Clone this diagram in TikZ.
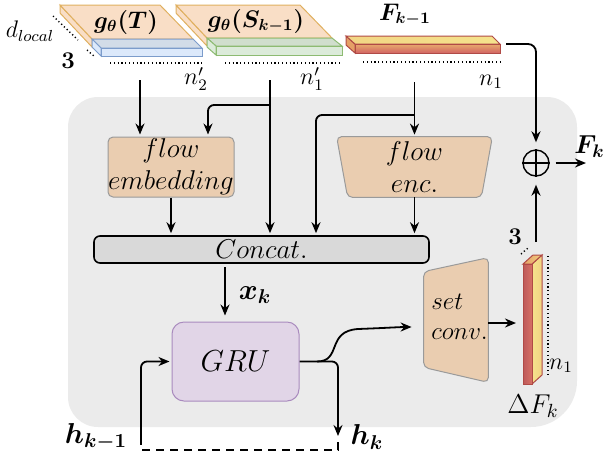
\RequirePackage{fix-cm}
\documentclass[tikz,border=0pt]{standalone}
\usepackage{amsmath,bm}
\usetikzlibrary{arrows.meta,calc}
\pgfdeclarelayer{back}\pgfdeclarelayer{mid}
\pgfsetlayers{back,mid,main}

\definecolor{panelF}{HTML}{EBEBEB}
\definecolor{peachF}{HTML}{EACDB0}
\definecolor{peachB}{HTML}{9A9A9A}
\definecolor{concatF}{HTML}{D9D9D9}
\definecolor{gruF}{HTML}{E1D5E7}
\definecolor{gruB}{HTML}{A98BBE}
\definecolor{featF}{HTML}{F9DEC6}
\definecolor{featB}{HTML}{E0B060}
\definecolor{blueF}{HTML}{DCE9FB}
\definecolor{blueT}{HTML}{D2DCE8}
\definecolor{blueB}{HTML}{7C9CCB}
\definecolor{greenF}{HTML}{DCEBDA}
\definecolor{greenT}{HTML}{D0DECD}
\definecolor{greenB}{HTML}{8DBB72}
\definecolor{yelF}{HTML}{F5E38C}
\definecolor{redF}{HTML}{D26464}
\definecolor{redB}{HTML}{B04A46}
\definecolor{oraF}{HTML}{E5A066}

\tikzset{
  arr/.style={line width=0.9pt, -{Stealth[length=5.5pt,width=4.5pt]}, shorten >=1pt},
  link/.style={line width=0.9pt},
  dots/.style={line width=0.7pt, dash pattern=on 0.6pt off 1.3pt},
  lbl/.style={inner sep=0pt, font=\fontsize{12}{15}\selectfont},
  biglbl/.style={inner sep=0pt, font=\fontsize{14.4}{17}\selectfont},
  boxtxt/.style={inner sep=0pt, align=center, font=\fontsize{13.6}{16}\selectfont},
}

\begin{document}
\begin{tikzpicture}[x=0.5pt,y=-0.5pt]
\useasboundingbox (0,0) rectangle (606,457);

% grey module panel
\begin{pgfonlayer}{back}
  \fill[panelF] (68,127) [rounded corners=15pt] -- (68,97) -- (577,97)
     [rounded corners=23pt] -- (577,427) [rounded corners=15pt] -- (68,427) -- (68,127);
\end{pgfonlayer}

% ---- input tensor g(T): features over coordinates
\filldraw[fill=featF, draw=featB, line width=0.5pt]
  (60,5) -- (60,13) -- (92,47) -- (92,39) -- cycle;
\filldraw[fill=featF, draw=featB, line width=0.5pt]
  (60,5) -- (160,5) -- (193,39) -- (92,39) -- cycle;
\filldraw[fill=blueT, draw=blueB, line width=0.5pt]
  (92,39) -- (193,39) -- (202,48) -- (101,48) -- cycle;
\filldraw[fill=blueF, draw=blueB, line width=0.5pt]
  (92,39) -- (101,48) -- (101,56) -- (92,47) -- cycle;
\filldraw[fill=blueF, draw=blueB, line width=0.5pt]
  (101,48) rectangle (202,56);
\draw[dots] (53,16) -- (78,40);
\draw[dots] (87,50) -- (95,57);
\draw[dots] (110,63) -- (202,63);

% ---- input tensor g(S_{k-1})
\filldraw[fill=featF, draw=featB, line width=0.5pt]
  (176,5) -- (176,13) -- (207,46) -- (207,38) -- cycle;
\filldraw[fill=featF, draw=featB, line width=0.5pt]
  (176,5) -- (300,5) -- (332,38) -- (207,38) -- cycle;
\filldraw[fill=greenT, draw=greenB, line width=0.5pt]
  (207,38) -- (332,38) -- (342,46) -- (216,46) -- cycle;
\filldraw[fill=greenF, draw=greenB, line width=0.5pt]
  (207,38) -- (216,46) -- (216,55) -- (207,47) -- cycle;
\filldraw[fill=greenF, draw=greenB, line width=0.5pt]
  (216,46) rectangle (342,55);
\draw[dots] (225,63) -- (340,63);

% ---- flow tensor F_{k-1}
\filldraw[fill=oraF, draw=redB, line width=0.5pt]
  (346,36) -- (355,44) -- (355,53) -- (346,45) -- cycle;
\path[draw=redB, line width=0.5pt, left color=yelF!80!oraF, right color=yelF]
  (346,36) -- (492,36) -- (500,44) -- (355,44) -- cycle;
\path[draw=redB, line width=0.5pt, top color=oraF!85!yelF, bottom color=redF]
  (355,44) rectangle (500,53);
\draw[dots] (363,62) -- (500,62);

% ---- flow update Delta F_k
\path[draw=redB, line width=0.5pt, left color=yelF, right color=yelF!75!oraF]
  (532,264) -- (542,255) -- (542,375) -- (532,384) -- cycle;
\path[draw=redB, line width=0.5pt, left color=oraF, right color=yelF!70!oraF]
  (523,264) -- (533,255) -- (542,255) -- (532,264) -- cycle;
\path[draw=redB, line width=0.5pt, left color=redF!90!black, right color=redF!80!oraF]
  (523,264) rectangle (532,384);
\draw[dots] (548,256) -- (548,375);
\draw[dots] (521,254) -- (528,248);

% ---- blocks
\node[draw=peachB, fill=peachF, rounded corners=2.5pt, line width=0.5pt,
      minimum width=63pt, minimum height=30pt, boxtxt] (femb) at (171,167)
      {$flow$\\$embedding$};
\node[minimum width=77.5pt, minimum height=30pt, boxtxt] (fenc) at (414.5,167)
      {$flow$\\$enc.$};
\node[draw, fill=concatF, rounded corners=3pt, line width=0.8pt,
      minimum width=167.5pt, minimum height=13.5pt, boxtxt] (concat) at (261.5,249.5)
      {$Concat.$};
\node[draw=gruB, fill=gruF, rounded corners=6pt, line width=0.5pt,
      minimum width=63.5pt, minimum height=39.5pt, inner sep=0pt,
      font=\fontsize{15.2}{18}\selectfont] (gru) at (235.5,361.5) {$GRU$};
\node[minimum width=32pt, minimum height=62pt, inner sep=0pt] (sconv) at (456,320) {};
\node[inner sep=0pt, align=left, anchor=west, font=\fontsize{12.5}{15}\selectfont]
      (sconvtxt) at (431,317) {$set$\\$conv.$};
\node[draw, circle, minimum size=13pt, inner sep=0pt, line width=0.7pt] (plus) at (536,163) {};
\draw[line width=0.7pt] (plus.north) -- (plus.south) (plus.west) -- (plus.east);

% trapezoid outlines of the encoder and the set conv layer
\begin{pgfonlayer}{mid}
  \filldraw[fill=peachF, draw=peachB, line width=0.5pt, rounded corners=2.5pt]
    (fenc.north west) -- (fenc.north east) -- ($(fenc.south east)+(-11,0)$)
    -- ($(fenc.south west)+(11,0)$) -- cycle;
  \filldraw[fill=peachF, draw=peachB, line width=0.5pt, rounded corners=2.5pt]
    (sconv.north east) -- (sconv.south east) -- ($(sconv.south west)+(0,-15)$)
    -- ($(sconv.north west)+(0,14)$) -- cycle;
\end{pgfonlayer}

% ---- labels
\node[lbl] (lgT) at (126,22) {$\bm{g_\theta(T)}$};
\node[lbl] (lgS) at (256,21) {$\bm{g_\theta(S_{k-1})}$};
\node[lbl] (lFp) at (405,15) {$\bm{F_{k-1}}$};
\node[lbl] (ldl) at (30,31) {$d_{local}$};
\node[lbl] (l3a) at (68,61) {$\bm{3}$};
\node[lbl] (ln2) at (196,79) {$n'_2$};
\node[lbl] (ln1p) at (312,79) {$n'_1$};
\node[lbl] (ln1) at (491,82) {$n_1$};
\node[inner sep=0pt, font=\fontsize{13}{15}\selectfont, anchor=east] (lFk) at (605,147) {$\bm{F_k}$};
\node[biglbl] (lxk) at (255,295) {$\bm{x_k}$};
\node[biglbl] (lhkm) at (96,437) {$\bm{h_{k-1}}$};
\node[biglbl] (lhk) at (367,437) {$\bm{h_k}$};
\node[lbl] (l3b) at (515,237) {$\bm{3}$};
\node[lbl] (ln1b) at (561,366) {$n_1$};
\node[boxtxt] (ldF) at (533,406) {$\Delta F_k$};

% ---- connectors
\coordinate (in1) at (140,80);
\draw[arr] (in1) -- (in1 |- femb.north);
\coordinate (in2) at (270,80);
\draw[arr] (in2) -- (in2 |- concat.north);
\coordinate (br2) at (270,105);
\draw[arr, rounded corners=3pt] (br2) -| ($(femb.north)+(37,0)$);
\coordinate (in3) at (414.5,82);
\draw[arr] (in3) -- (fenc.north);
\coordinate (br3) at (414.5,115);
\draw[arr, rounded corners=3pt] (br3) -| ($(concat.north)+(54.5,0)$);
\draw[arr] (femb.south) -- (femb.south |- concat.north);
\draw[arr] (fenc.south) -- (fenc.south |- concat.north);
\coordinate (xin) at (225,267);
\draw[arr, shorten >=3pt] (xin) -- (xin |- gru.north);

\coordinate (hk) at (338,438);
\draw[arr, rounded corners=3pt] (gru.east) -| (hk);
\coordinate (split) at (317,361.5);
\draw[arr] (split) .. controls (342,361.5) and (326,331) .. (358,329)
  .. controls (385,328) and (400,327) .. ($(sconv.west)+(-10,7)$);
\coordinate (hkm) at (141,437);
\draw[arr, rounded corners=3pt] (hkm) |- (gru.west);
\draw[link, dash pattern=on 4pt off 3pt] (hkm) -- ++(0,13) -| (hk);

\coordinate (dfin) at (518,323);
\draw[arr] ($(sconv.east)+(0,3)$) -- (dfin);
\coordinate (dfout) at (536,242);
\draw[arr, shorten >=4pt] (dfout) -- (plus.south);
\coordinate (fout) at (506,44);
\draw[arr, rounded corners=4pt, shorten >=3.5pt] (fout) -| (plus.north);
\coordinate (fk) at (588,163);
\draw[arr, shorten <=3pt] (plus.east) -- (fk);
\end{tikzpicture}
\end{document}
